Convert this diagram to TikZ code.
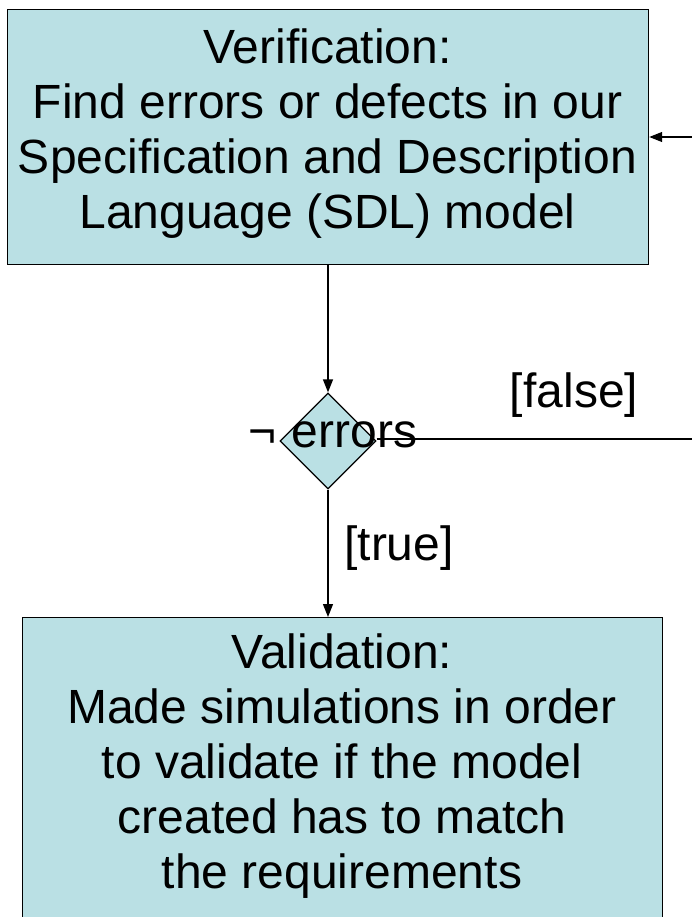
\documentclass[tikz,border=0pt]{standalone}
\usepackage{fontspec}
\setmainfont{Liberation Sans}
\usetikzlibrary{shapes.geometric,arrows.meta}
\definecolor{boxfill}{RGB}{186,224,228}
\tikzset{
  procbox/.style={draw=black, line width=1.2pt, fill=boxfill, rectangle, inner sep=0pt},
  boxtext/.style={align=center, font=\fontsize{48}{55}\selectfont, inner sep=0pt},
  decision/.style={draw=black, line width=1.2pt, fill=boxfill, diamond, inner sep=0pt, minimum width=96pt, minimum height=96pt},
  flow/.style={line width=1.3pt, -{Triangle[length=13pt,width=10pt]}},
  plain/.style={line width=1.3pt},
  lbl/.style={font=\fontsize{48}{55}\selectfont, inner sep=0pt, anchor=base}
}
\begin{document}
\begin{tikzpicture}[x=1pt,y=-1pt]
\clip (0,0) rectangle (692,917);
\fill[white] (0,0) rectangle (692,917);
% verification box
\node[procbox, minimum width=641pt, minimum height=255pt, anchor=north west] (ver) at (7,9) {};
\node[boxtext] (vertext) at (327.5,134) {Verification:\\Find errors or defects in our\\Specification and Description\\Language (SDL) model};
% decision
\node[decision] (dec) at (328,441) {};
\node[lbl] (errlbl) at (333,447) {\char"00AC\hspace{2pt} errors};
% validation box
\node[procbox, minimum width=640pt, minimum height=320pt, anchor=north west] (val) at (22,617) {};
\node[boxtext] (valtext) at (342,766) {Validation:\\Made simulations in order\\to validate if the model\\created has to match\\the requirements};
% labels
\node[lbl] (falselbl) at (574,407) {[false]};
\node[lbl] (truelbl) at (399,560) {[true]};
% connectors
\coordinate (outR) at (700,439);
\coordinate (inR) at (700,137);
\draw[flow] (ver.south -| dec.north) -- (dec.north);
\draw[flow] (dec.south) -- (val.north -| dec.south);
\draw[plain] (dec.east |- outR) -- (outR);
\draw[flow] (inR) -- (ver.east |- inR);
\end{tikzpicture}
\end{document}
